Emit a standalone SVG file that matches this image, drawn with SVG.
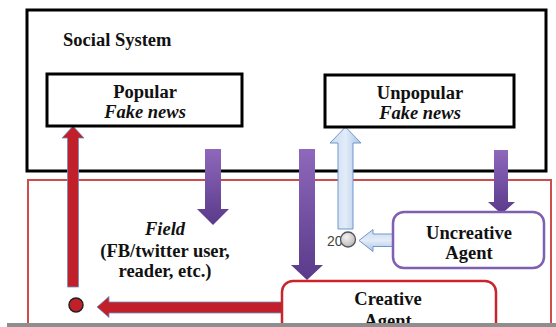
<svg xmlns="http://www.w3.org/2000/svg" width="556" height="327" viewBox="0 0 556 327">
  <defs>
    <linearGradient id="purpleGrad" x1="0" y1="0" x2="0" y2="1">
      <stop offset="0" stop-color="#8e68bb"/>
      <stop offset="1" stop-color="#5a3a8a"/>
    </linearGradient>
    <linearGradient id="blueGradV" x1="0" y1="0" x2="1" y2="0">
      <stop offset="0" stop-color="#c9daf0"/>
      <stop offset="0.5" stop-color="#e3ecf8"/>
      <stop offset="1" stop-color="#aac4e6"/>
    </linearGradient>
    <linearGradient id="blueGradH" x1="0" y1="0" x2="0" y2="1">
      <stop offset="0" stop-color="#c9daf0"/>
      <stop offset="0.5" stop-color="#e3ecf8"/>
      <stop offset="1" stop-color="#aac4e6"/>
    </linearGradient>
    <radialGradient id="grayGrad" cx="0.4" cy="0.35" r="0.7">
      <stop offset="0" stop-color="#f4f4f4"/>
      <stop offset="1" stop-color="#b4b4b4"/>
    </radialGradient>
  </defs>
  <style>
    .frame { fill: none; }
    .box { fill: #ffffff; stroke: #000000; stroke-width: 3; }
    .label { font-family: 'Liberation Serif', 'DejaVu Serif', 'Noto Serif', serif; font-weight: 700; font-size: 18.5px; fill: #111111; text-anchor: middle; }
    .ital { font-style: italic; }
    .purple { fill: url(#purpleGrad); stroke: none; }
    .red { fill: #c1202b; stroke: #6d8fc4; stroke-width: 0.8; }
    .blueV { fill: url(#blueGradV); stroke: #6f97cc; stroke-width: 1; }
    .blueH { fill: url(#blueGradH); stroke: #6f97cc; stroke-width: 1; }
  </style>

  <!-- outer frames -->
  <g id="social-system">
    <rect class="frame" x="27" y="10" width="519" height="161" stroke="#000000" stroke-width="3"/>
    <text x="63" y="46" class="label" text-anchor="start" style="text-anchor:start">Social System</text>
  </g>
  <g id="field-frame">
    <rect class="frame" x="28" y="180" width="523" height="160" stroke="#d24b4b" stroke-width="2"/>
  </g>

  <!-- connectors -->
  <g id="connectors">
    <!-- red: field back up to popular -->
    <polygon class="red" points="67.5,287 67.5,138 62,138 73,126 84,138 78.5,138 78.5,287"/>
    <circle cx="76" cy="305" r="7" fill="#c1202b" stroke="#222222" stroke-width="1.5"/>
    <!-- red: creative agent to field -->
    <polygon class="red" points="284,302 109,302 109,296.5 97,307 109,317.5 109,313 284,313"/>
    <!-- purple downward arrows -->
    <polygon class="purple" points="205,149 221,149 221,209 229,209 213,225 197,209 205,209"/>
    <polygon class="purple" points="299,149 315,149 315,265 323,265 307,280 291,265 299,265"/>
    <polygon class="purple" points="494,150 508,150 508,202 515,202 501.5,214 488,202 494,202"/>
    <!-- light blue: uncreative path to unpopular -->
    <polygon class="blueV" points="338,229 338,143 330,143 345.5,127 361,143 353,143 353,229"/>
    <polygon class="blueH" points="394,234 373,234 373,229.5 359,240.5 373,251.5 373,246.5 394,246.5"/>
    <text x="327" y="246" font-family="'Liberation Sans', Arial, sans-serif" font-size="14" fill="#444444">20</text>
    <circle cx="348" cy="239.5" r="7.5" fill="url(#grayGrad)" stroke="#555555" stroke-width="1.3"/>
  </g>

  <!-- nodes -->
  <g id="popular">
    <rect class="box" x="47" y="74" width="195" height="52"/>
    <text x="145" y="98" class="label">Popular</text>
    <text x="145" y="118" class="label ital">Fake news</text>
  </g>
  <g id="unpopular">
    <rect class="box" x="325" y="75" width="189" height="52"/>
    <text x="420" y="99" class="label">Unpopular</text>
    <text x="420" y="119" class="label ital">Fake news</text>
  </g>
  <g id="field">
    <text x="165" y="235" class="label ital">Field</text>
    <text x="165" y="257" class="label">(FB/twitter user,</text>
    <text x="165" y="277" class="label">reader, etc.)</text>
  </g>
  <g id="uncreative-agent">
    <rect x="393" y="212" width="151" height="56" rx="11" fill="#ffffff" stroke="#7e5fb2" stroke-width="2.5"/>
    <text x="469" y="239" class="label">Uncreative</text>
    <text x="469" y="259" class="label">Agent</text>
  </g>
  <g id="creative-agent">
    <rect x="282" y="281" width="214" height="70" rx="11" fill="#ffffff" stroke="#c9262c" stroke-width="2.5"/>
    <text x="388" y="305" class="label">Creative</text>
    <text x="388" y="327" class="label">Agent</text>
  </g>

  <!-- bottom strip -->
  <rect x="7" y="323" width="549" height="4" fill="#8e8e8e"/>
</svg>
